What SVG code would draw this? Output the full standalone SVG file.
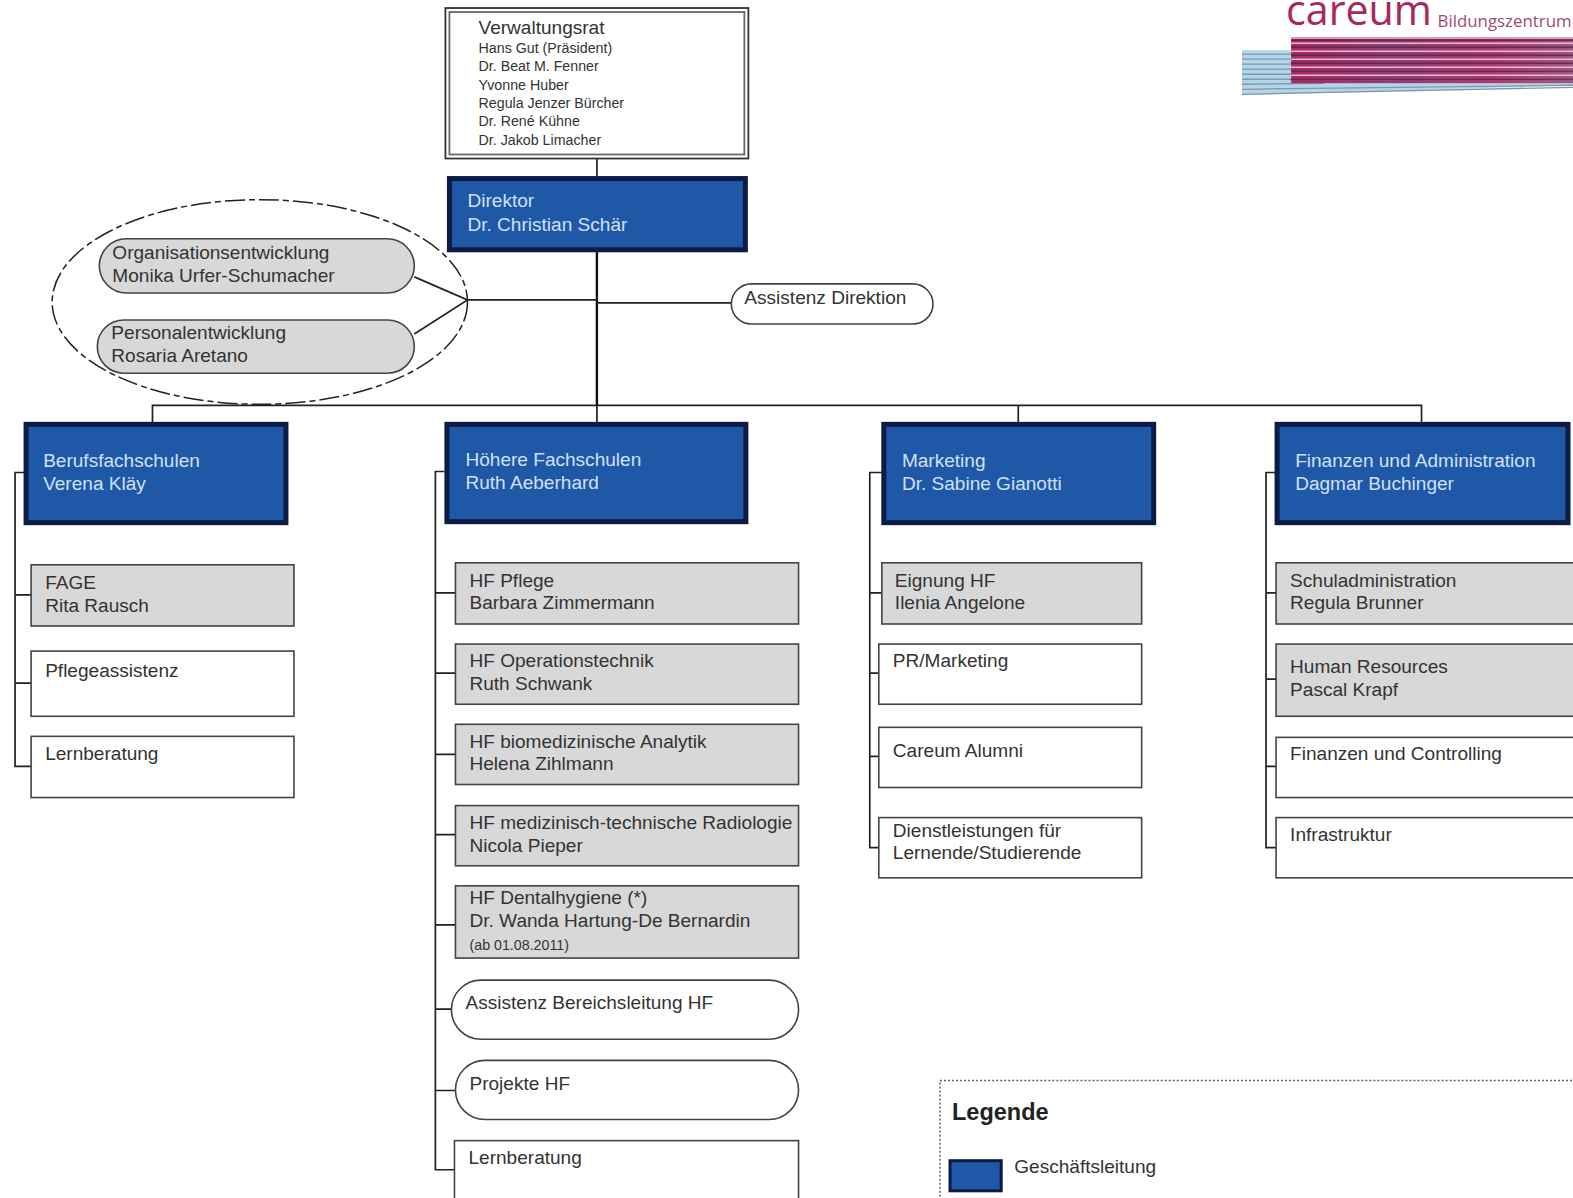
<svg xmlns="http://www.w3.org/2000/svg" width="1573" height="1198" viewBox="0 0 1573 1198">
<defs>
<linearGradient id="mag" x1="0" x2="1" y1="0" y2="0">
<stop offset="0" stop-color="#a52a62"/><stop offset="0.35" stop-color="#8f3f78"/><stop offset="0.7" stop-color="#a83a70"/><stop offset="1" stop-color="#9a5a80"/>
</linearGradient>
</defs>
<style>
text{font-family:"Liberation Sans",Arial,sans-serif;font-size:19px;fill:#333}
.blue rect{fill:#2058a8;stroke:#0c1c44;stroke-width:5}
.blue text{fill:#cfe0f6}
.g{fill:#d8d8d8;stroke:#444;stroke-width:1.6}
.w{fill:#fff;stroke:#444;stroke-width:1.6}
.c path{fill:none;stroke:#222;stroke-width:1.7}
.c .t{stroke-width:2.4;stroke:#111}
.s{font-size:14.2px}
</style>
<g transform="scale(1.0032)">
<rect width="1568" height="1194" fill="#fff"/>
<g id="connectors" class="c">
<path d="M595 158V176M152 421V404H1417V421M595 404V421M1015 404V421"/>
<path class="t" d="M595 251V404"/>
<path d="M595 302H729M595 299H466M413 276L466 299L413 333"/>
<path d="M24 471H15V764H31M15 593H31M15 681H31"/>
<path d="M443 470H434V1166H453M434 591H454M434 671H454M434 752H454M434 832H454M434 922H454M434 1006H450M434 1087H454"/>
<path d="M879 471H867V845H876M867 591H879M867 671H876M867 754H876"/>
<path d="M1271 471H1262V845H1272M1262 591H1272M1262 677H1272M1262 764H1272"/>
</g>
<g id="verwaltungsrat">
<rect x="444" y="8" width="302" height="150" fill="#fff" stroke="#333" stroke-width="1.8"/>
<rect x="448" y="12" width="294" height="142" fill="#fff" stroke="#666" stroke-width="1.8"/>
<text x="477" y="34">Verwaltungsrat</text>
<text class="s" x="477" y="53">Hans Gut (Präsident)</text>
<text class="s" x="477" y="71">Dr. Beat M. Fenner</text>
<text class="s" x="477" y="90">Yvonne Huber</text>
<text class="s" x="477" y="108">Regula Jenzer Bürcher</text>
<text class="s" x="477" y="126">Dr. René Kühne</text>
<text class="s" x="477" y="145">Dr. Jakob Limacher</text>
</g>
<g id="direktor" class="blue">
<rect x="448" y="178" width="295" height="71"/>
<text x="466" y="206">Direktor</text>
<text x="466" y="230">Dr. Christian Schär</text>
</g>
<g id="stab-gruppe">
<ellipse cx="259" cy="301" rx="207" ry="102" fill="none" stroke="#222" stroke-width="1.5" stroke-dasharray="20 4 6 4"/>
</g>
<g id="organisationsentwicklung">
<rect class="g" x="99" y="238" width="314" height="54" rx="27"/>
<text x="112" y="258">Organisationsentwicklung</text>
<text x="112" y="281">Monika Urfer-Schumacher</text>
</g>
<g id="personalentwicklung">
<rect class="g" x="97" y="319" width="316" height="53" rx="26.500"/>
<text x="111" y="338">Personalentwicklung</text>
<text x="111" y="361">Rosaria Aretano</text>
</g>
<g id="assistenz-direktion">
<rect class="w" x="729" y="283" width="201" height="40" rx="20"/>
<text x="742" y="303">Assistenz Direktion</text>
</g>
<g id="berufsfachschulen" class="blue">
<rect x="26" y="423" width="259" height="98"/>
<text x="43" y="466">Berufsfachschulen</text>
<text x="43" y="488">Verena Kläy</text>
</g>
<g id="hoehere-fachschulen" class="blue">
<rect x="445.500" y="423" width="298" height="97"/>
<text x="464" y="465">Höhere Fachschulen</text>
<text x="464" y="487">Ruth Aeberhard</text>
</g>
<g id="marketing" class="blue">
<rect x="881" y="423" width="269" height="98"/>
<text x="899" y="466">Marketing</text>
<text x="899" y="488">Dr. Sabine Gianotti</text>
</g>
<g id="finanzen" class="blue">
<rect x="1273" y="423" width="290" height="98"/>
<text x="1291" y="466">Finanzen und Administration</text>
<text x="1291" y="488">Dagmar Buchinger</text>
</g>
<g id="fage"><rect class="g" x="31" y="563" width="262" height="61"/><text x="45" y="587">FAGE</text><text x="45" y="610">Rita Rausch</text></g>
<g id="pflegeassistenz"><rect class="w" x="31" y="649" width="262" height="65"/><text x="45" y="675">Pflegeassistenz</text></g>
<g id="lernberatung-bfs"><rect class="w" x="31" y="734" width="262" height="61"/><text x="45" y="758">Lernberatung</text></g>
<g id="hf-pflege"><rect class="g" x="454" y="561" width="342" height="61"/><text x="468" y="585">HF Pflege</text><text x="468" y="607">Barbara Zimmermann</text></g>
<g id="hf-ot"><rect class="g" x="454" y="642" width="342" height="60"/><text x="468" y="665">HF Operationstechnik</text><text x="468" y="688">Ruth Schwank</text></g>
<g id="hf-bma"><rect class="g" x="454" y="722" width="342" height="60"/><text x="468" y="746">HF biomedizinische Analytik</text><text x="468" y="768">Helena Zihlmann</text></g>
<g id="hf-mtr"><rect class="g" x="454" y="803" width="342" height="60"/><text x="468" y="826">HF medizinisch-technische Radiologie</text><text x="468" y="849">Nicola Pieper</text></g>
<g id="hf-dh"><rect class="g" x="454" y="883" width="342" height="72"/><text x="468" y="901">HF Dentalhygiene (*)</text><text x="468" y="924">Dr. Wanda Hartung-De Bernardin</text><text class="s" x="468" y="947">(ab 01.08.2011)</text></g>
<g id="assistenz-hf"><rect class="w" x="450" y="977" width="346" height="59" rx="29.500"/><text x="464" y="1006">Assistenz Bereichsleitung HF</text></g>
<g id="projekte-hf"><rect class="w" x="454" y="1057" width="342" height="59" rx="29.500"/><text x="468" y="1087">Projekte HF</text></g>
<g id="lernberatung-hf"><rect class="w" x="453" y="1137" width="343" height="70"/><text x="467" y="1160">Lernberatung</text></g>
<g id="eignung"><rect class="g" x="879" y="561" width="259" height="61"/><text x="892" y="585">Eignung HF</text><text x="892" y="607">Ilenia Angelone</text></g>
<g id="pr"><rect class="w" x="876" y="642" width="262" height="60"/><text x="890" y="665">PR/Marketing</text></g>
<g id="alumni"><rect class="w" x="876" y="725" width="262" height="60"/><text x="890" y="755">Careum Alumni</text></g>
<g id="dienstleistungen"><rect class="w" x="876" y="815" width="262" height="60"/><text x="890" y="834">Dienstleistungen für</text><text x="890" y="856">Lernende/Studierende</text></g>
<g id="schuladmin"><rect class="g" x="1272" y="561" width="300" height="61"/><text x="1286" y="585">Schuladministration</text><text x="1286" y="607">Regula Brunner</text></g>
<g id="hr"><rect class="g" x="1272" y="642" width="300" height="72"/><text x="1286" y="671">Human Resources</text><text x="1286" y="694">Pascal Krapf</text></g>
<g id="controlling"><rect class="w" x="1272" y="735" width="300" height="60"/><text x="1286" y="758">Finanzen und Controlling</text></g>
<g id="infrastruktur"><rect class="w" x="1272" y="815" width="300" height="60"/><text x="1286" y="838">Infrastruktur</text></g>
<g id="legende">
<rect x="937" y="1077" width="700" height="200" fill="none" stroke="#666" stroke-width="1.500" stroke-dasharray="2 2"/>
<text x="949" y="1116" style="font-size:23.400px;font-weight:bold;fill:#222">Legende</text>
<rect x="947" y="1157" width="51" height="30" fill="#2058a8" stroke="#0c1c44" stroke-width="3"/>
<text x="1011" y="1169">Geschäftsleitung</text>
</g>
<g id="logo">
<text x="1282" y="25" style="font-size:41px;fill:#a8285c;font-family:'Open Sans',sans-serif">careum</text>
<text x="1433" y="27" style="font-size:16.800px;fill:#a04a70;font-family:'Open Sans',sans-serif">Bildungszentrum</text>
<path d="M1238 50H1290V83H1568V85L1238 95Z" fill="#b4d5e6"/>
<g stroke="#7d98ad" stroke-width="1.300"><line x1="1238" y1="54" x2="1290" y2="54"/><line x1="1238" y1="59" x2="1290" y2="59"/><line x1="1238" y1="64" x2="1290" y2="64"/><line x1="1238" y1="69" x2="1290" y2="69"/><line x1="1238" y1="74" x2="1290" y2="74"/><line x1="1238" y1="79" x2="1290" y2="79"/><line x1="1238" y1="84" x2="1320" y2="83"/><line x1="1238" y1="89" x2="1568" y2="85"/><line x1="1238" y1="94" x2="1568" y2="87"/></g>
<rect x="1287" y="37" width="281" height="46" fill="url(#mag)"/>
<g stroke="#f0b6c8" stroke-width="1.500"><line x1="1287" y1="38" x2="1568" y2="38"/><line x1="1287" y1="43" x2="1568" y2="43"/><line x1="1287" y1="51" x2="1568" y2="51"/><line x1="1287" y1="59" x2="1568" y2="59"/><line x1="1287" y1="67" x2="1568" y2="67"/><line x1="1287" y1="75" x2="1568" y2="75"/></g>
<g stroke="#5a2048" stroke-width="1.200"><line x1="1287" y1="40" x2="1568" y2="40"/><line x1="1287" y1="47" x2="1568" y2="47"/><line x1="1287" y1="55" x2="1568" y2="55"/><line x1="1287" y1="63" x2="1568" y2="63"/><line x1="1287" y1="71" x2="1568" y2="71"/><line x1="1287" y1="79" x2="1568" y2="79"/></g>
</g>
</g>
</svg>
